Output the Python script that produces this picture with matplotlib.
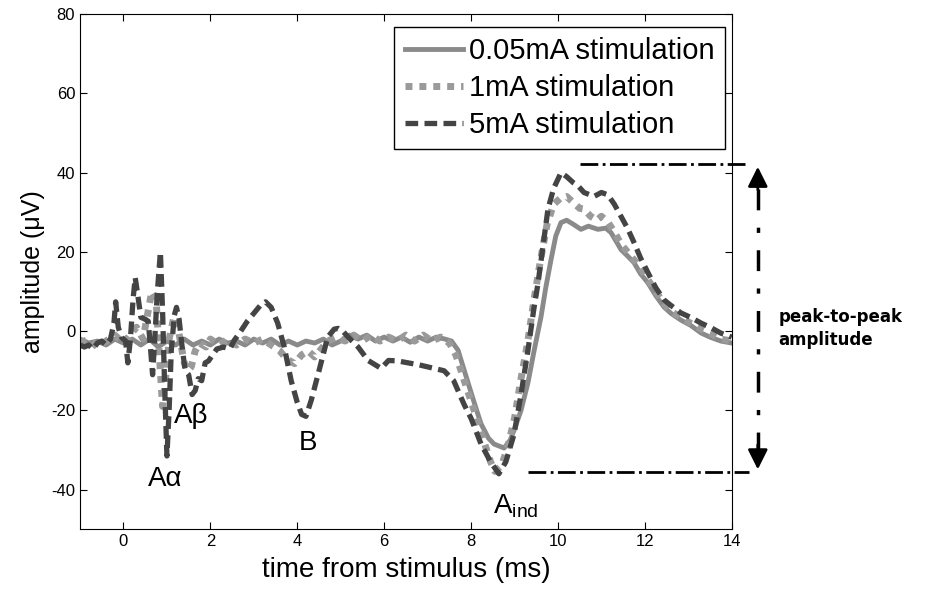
import matplotlib
matplotlib.use("Agg")
import matplotlib.pyplot as plt

plt.rcParams['font.family'] = ['Liberation Sans', 'DejaVu Sans']
plt.rcParams['mathtext.fontset'] = 'custom'
plt.rcParams['mathtext.rm'] = 'Liberation Sans'
plt.rcParams['axes.unicode_minus'] = False

# 0.05 mA stimulation (solid)
t_low = [-1.0, -0.8, -0.6, -0.4, -0.2, 0.0, 0.2, 0.4, 0.6, 0.8, 1.0, 1.2, 1.4, 1.6, 1.8,
         2.0, 2.2, 2.4, 2.6, 2.8, 3.0, 3.2, 3.4, 3.6, 3.8, 4.0, 4.2, 4.4, 4.6, 4.8,
         5.0, 5.2, 5.4, 5.6, 5.8, 6.0, 6.2, 6.4, 6.6, 6.8, 7.0, 7.2, 7.4, 7.55, 7.7,
         7.93, 8.1, 8.23, 8.4, 8.53, 8.76, 8.9, 8.99, 9.15, 9.31, 9.45, 9.61, 9.72, 9.84,
         9.95, 10.07, 10.2, 10.35, 10.53, 10.7, 10.92, 11.1, 11.22, 11.35, 11.45, 11.6,
         11.75, 11.9, 12.07, 12.25, 12.44, 12.6, 12.83, 13.05, 13.3, 13.5, 13.75, 14.0]
v_low = [-2, -3, -2.5, -3.5, -2, -3, -2, -3.5, -2, -4, -2.5, -3.5, -2, -3.5, -2.5,
         -3.5, -2, -3, -2.5, -3.5, -2, -3, -2, -3.5, -2.5, -3.5, -2.5, -3, -2, -3.5,
         -2.5, -1, -2, -1, -2.5, -1.5, -2.5, -1.5, -2.8, -1.5, -2.5, -1.5, -2, -2.5, -4.8,
         -13, -19, -23.4, -27, -28.5, -29.5, -27.5, -25, -20, -13, -5, 3.6, 11, 18,
         24, 27.4, 28, 27, 25.7, 26.5, 25.7, 26, 24.9, 22.5, 20.6, 19,
         17.3, 14.5, 12.2, 9, 6.1, 4.5, 2.8, 1.5, -0.5, -1.5, -2.5, -3]

# 1 mA stimulation (dotted)
t_mid = [-1.0, -0.8, -0.6, -0.4, -0.2, 0.0, 0.15, 0.3, 0.45, 0.55, 0.65, 0.75, 0.82, 0.9,
         0.97, 1.05, 1.15, 1.22, 1.3, 1.4, 1.48, 1.56, 1.65, 1.75, 1.9, 2.0, 2.2, 2.4,
         2.6, 2.8, 3.0, 3.2, 3.4, 3.6, 3.75, 3.94, 4.1, 4.25, 4.4, 4.55, 4.7, 4.9, 5.1,
         5.3, 5.5, 5.7, 5.9, 6.1, 6.3, 6.5, 6.7, 6.9, 7.1, 7.3, 7.5, 7.65, 7.8, 7.95,
         8.1, 8.3, 8.45, 8.55, 8.7, 8.85, 9.0, 9.15, 9.3, 9.45, 9.6, 9.75, 9.9, 10.05,
         10.2, 10.35, 10.5, 10.6, 10.75, 10.9, 11.0, 11.15, 11.3, 11.45, 11.6, 11.75,
         11.9, 12.07, 12.25, 12.44, 12.6, 12.83, 13.05, 13.3, 13.5, 13.75, 14.0]
v_mid = [-3, -2, -4, -2.5, -1, -3, -1, 1, -2, 4, 10, 8, -5, -19,
         -12, -2, 3, 3.5, -2, -8, -10, -9, -5, -3, -4, -2, -3.5, -2,
         -3.5, -2, -3, -2, -3.5, -5, -7, -8.2, -6, -5, -6.5, -4.5, -2.5, -1.5, -2.5,
         -1, -2.5, -1, -2.5, -1.5, -2.5, -1, -2.5, -1, -2.5, -1.5, -3, -6, -11, -16,
         -21, -28, -33, -35.4, -34, -29, -22, -12, -3, 8, 18, 27, 32, 33.5,
         34, 32.5, 31, 30.8, 29, 28, 29, 27.5, 25, 22, 20, 18,
         16, 13, 10, 7, 5, 3.5, 2, 0.5, -0.5, -2, -2.5]

# 5 mA stimulation (dashed)
t_high = [-1.0, -0.9, -0.8, -0.7, -0.6, -0.5, -0.4, -0.3, -0.22, -0.18, -0.12, -0.05, 0.05,
          0.1, 0.16, 0.22, 0.27, 0.33, 0.4, 0.5, 0.57, 0.62, 0.67, 0.72, 0.78, 0.85, 0.9,
          0.95, 1.0, 1.05, 1.1, 1.17, 1.22, 1.28, 1.35, 1.42, 1.5, 1.58, 1.65, 1.72, 1.8,
          1.88, 1.96, 2.05, 2.15, 2.3, 2.45, 2.55, 2.7, 2.85, 3.0, 3.15, 3.27, 3.4, 3.55,
          3.7, 3.86, 4.0, 4.1, 4.2, 4.32, 4.5, 4.7, 4.85, 4.94, 5.05, 5.17, 5.4, 5.63,
          5.93, 6.1, 6.3, 6.55, 6.8, 7.15, 7.38, 7.6, 7.84, 8.0, 8.23, 8.45, 8.64, 8.8,
          8.99, 9.15, 9.31, 9.45, 9.54, 9.65, 9.77, 9.9, 10.07, 10.2, 10.35, 10.46, 10.6,
          10.83, 11.0, 11.15, 11.3, 11.45, 11.6, 11.75, 11.9, 12.07, 12.25, 12.44, 12.6,
          12.83, 13.05, 13.3, 13.5, 13.75, 14.0]
v_high = [-3.5, -4, -3.5, -4.5, -3, -2.5, -3.5, -2, 2, 7.4, 1, -1.5, -2.5,
          -8, -2, 8, 13.5, 9, 3.5, 3, 2.5, -4, -11, -2, 10, 20, 5,
          -15, -31.5, -20, -5, 4, 6, 3, -4, -10, -11, -16, -15, -12, -12.5,
          -8, -7.5, -6, -4.5, -4, -4.5, -2.3, 0, 2.5, 4.5, 6.5, 7.4, 6, 2,
          -4, -12.5, -18, -21, -21.5, -17.5, -10, -1.5, 0.5, 0.7, 0, -1.5, -4, -7.4,
          -9.4, -7.4, -7.5, -8, -8.5, -9.4, -10, -12.5, -18.5, -22, -28.5, -33, -36, -33,
          -26, -16, -4.8, 6, 12, 21, 30.8, 36, 40, 39, 37.5, 36.7, 35,
          34, 35, 34.4, 32, 29, 26, 22.4, 18.5, 14.8, 11, 7.9, 6.5,
          4.6, 3.5, 2, 1, -0.5, -1.5]

labels = ['0.05mA stimulation', '1mA stimulation', '5mA stimulation']

fig = plt.figure(figsize=(9.35, 5.92), dpi=100)
ax = fig.add_axes([0.0856, 0.106, 0.697, 0.870])

ax.plot(t_low, v_low, color='#8a8a8a', lw=3.5, label=labels[0])
ax.plot(t_mid, v_mid, color='#9a9a9a', lw=5, linestyle=(0, (1, 1)), label=labels[1])
ax.plot(t_high, v_high, color='#444444', lw=3.8, linestyle=(0, (2.4, 1.2)), label=labels[2])

ax.set_xlim(-1, 14)
ax.set_ylim(-50, 80)
ax.set_xticks(range(0, 15, 2))
ax.set_yticks(range(-40, 81, 20))
ax.tick_params(direction='in', top=True, right=True, length=5, labelsize=12)
ax.set_xlabel('time from stimulus (ms)', fontsize=20, labelpad=6)
ax.set_ylabel('amplitude (\u03bcV)', fontsize=18, labelpad=4)

leg = ax.legend(loc='upper right', bbox_to_anchor=(0.989, 0.975), borderaxespad=0,
                fontsize=21, handlelength=2.0, handletextpad=0.2, labelspacing=0.3,
                borderpad=0.35, fancybox=False, framealpha=1, edgecolor='black')
leg.get_frame().set_linewidth(1.0)

# peak labels
ax.text(0.97, -37.2, 'A\u03b1', fontsize=20, ha='center', va='center')
ax.text(1.56, -21.4, 'A\u03b2', fontsize=20, ha='center', va='center')
ax.text(4.25, -28.2, 'B', fontsize=20, ha='center', va='center')
ax.text(8.5, -46, r'A$_{\mathrm{ind}}$', fontsize=20, ha='left', va='baseline')

# peak-to-peak marker outside the axes
ax.plot([10.5, 14.4], [42.2, 42.2], color='black', lw=2, linestyle='-.', clip_on=False)
ax.plot([9.3, 14.4], [-35.6, -35.6], color='black', lw=2, linestyle='-.', clip_on=False)
ax.plot([14.6, 14.6], [36, -30], color='black', lw=2.5, linestyle=(0, (6, 5, 1.5, 5)), clip_on=False)
ax.annotate('', xy=(14.6, 42.2), xytext=(14.6, 35), annotation_clip=False,
            arrowprops=dict(arrowstyle='-|>', color='black', lw=2, mutation_scale=30))
ax.annotate('', xy=(14.6, -35.6), xytext=(14.6, -28), annotation_clip=False,
            arrowprops=dict(arrowstyle='-|>', color='black', lw=2, mutation_scale=30))
ax.text(15.08, 0.7, 'peak-to-peak\namplitude', fontsize=12, fontweight='bold',
        family='DejaVu Sans', ha='left', va='center', linespacing=1.4)

fig.savefig('out.png', dpi=100)
